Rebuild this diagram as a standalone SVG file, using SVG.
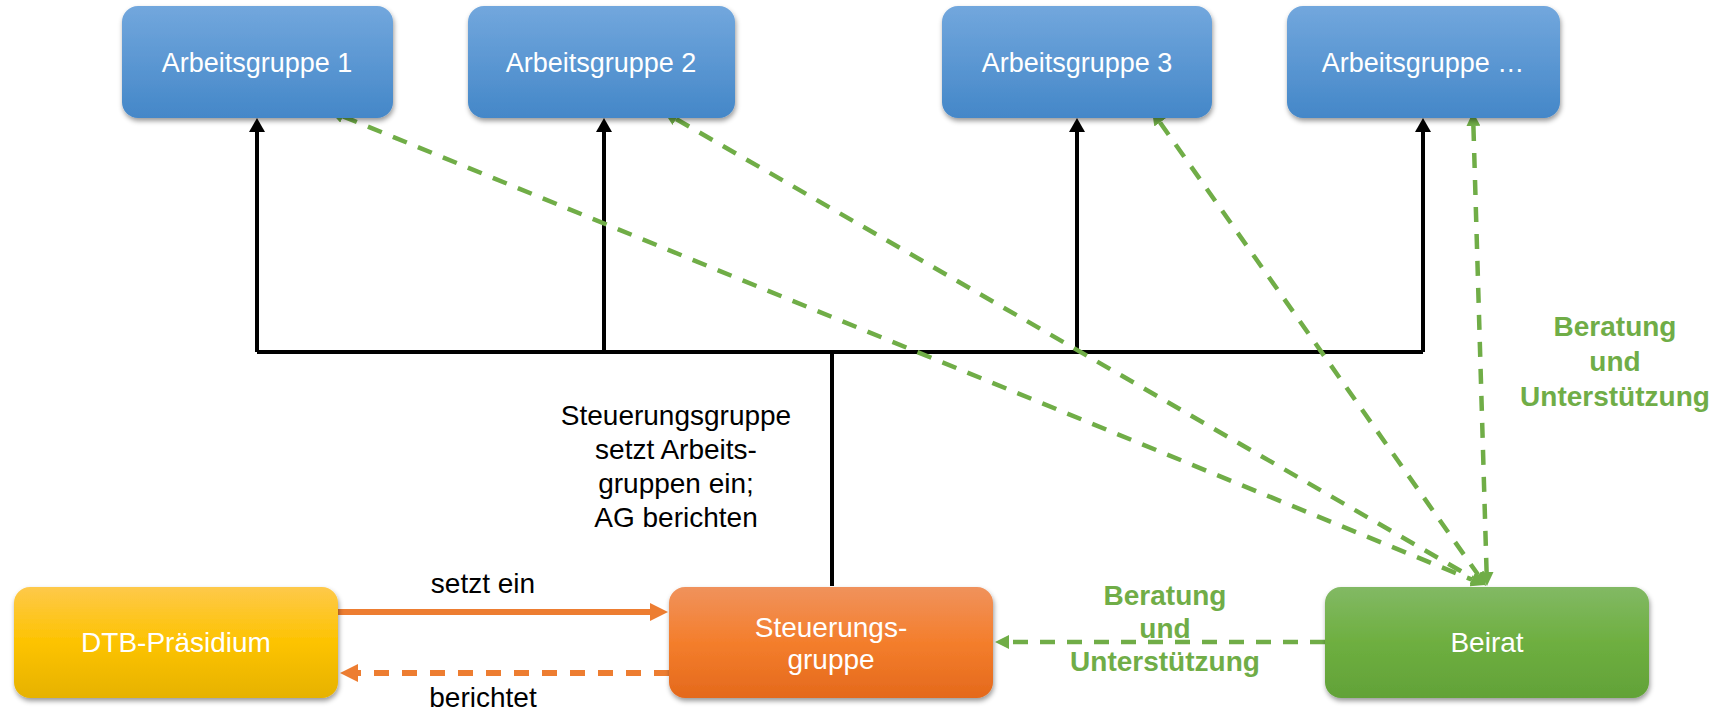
<svg xmlns="http://www.w3.org/2000/svg" width="1725" height="710" viewBox="0 0 1725 710">
  <style>
    .nt { font-family: "Liberation Sans", Arial, sans-serif; font-size: 27px; fill: #ffffff; text-anchor: middle; }
    .lb { font-family: "Liberation Sans", Arial, sans-serif; font-size: 28px; fill: #000000; text-anchor: middle; }
    .gl { font-family: "Liberation Sans", Arial, sans-serif; font-size: 28px; font-weight: bold; fill: #70ad47; text-anchor: middle; }
    .blk { fill: none; stroke: #000000; stroke-width: 4; }
    .grn { fill: none; stroke: #70ad47; stroke-width: 4.5; stroke-dasharray: 15 12; }
    .org { fill: none; stroke: #ed7d31; stroke-width: 6; }
    .orgd { fill: none; stroke: #ed7d31; stroke-width: 6; stroke-dasharray: 15 13; }
  </style>
  <defs>
    <linearGradient id="gBlue" x1="0" y1="0" x2="0" y2="1">
      <stop offset="0" stop-color="#72a7dd"/>
      <stop offset="1" stop-color="#4487c8"/>
    </linearGradient>
    <linearGradient id="gYellow" x1="0" y1="0" x2="0" y2="1">
      <stop offset="0" stop-color="#fec94a"/>
      <stop offset="0.5" stop-color="#fdc300"/>
      <stop offset="1" stop-color="#e6b200"/>
    </linearGradient>
    <linearGradient id="gOrange" x1="0" y1="0" x2="0" y2="1">
      <stop offset="0" stop-color="#f0925c"/>
      <stop offset="0.5" stop-color="#f47e2c"/>
      <stop offset="1" stop-color="#e4691c"/>
    </linearGradient>
    <linearGradient id="gGreen" x1="0" y1="0" x2="0" y2="1">
      <stop offset="0" stop-color="#82b964"/>
      <stop offset="0.5" stop-color="#6eaf40"/>
      <stop offset="1" stop-color="#62a238"/>
    </linearGradient>
    <filter id="sh" x="-10%" y="-10%" width="120%" height="130%">
      <feDropShadow dx="1" dy="3" stdDeviation="2.5" flood-color="#000000" flood-opacity="0.4"/>
    </filter>
    <marker id="aBlack" markerUnits="userSpaceOnUse" viewBox="0 0 14 16" markerWidth="14" markerHeight="16" refX="0" refY="8" orient="auto">
      <path d="M0,0 L14,8 L0,16 z" fill="#000000"/>
    </marker>
    <marker id="aGreen" markerUnits="userSpaceOnUse" viewBox="0 0 14 14" markerWidth="14" markerHeight="14" refX="0" refY="7" orient="auto-start-reverse">
      <path d="M0,0 L14,7 L0,14 z" fill="#70ad47"/>
    </marker>
    <marker id="aOrange" markerUnits="userSpaceOnUse" viewBox="0 0 18 18" markerWidth="18" markerHeight="18" refX="0" refY="9" orient="auto">
      <path d="M0,0 L18,9 L0,18 z" fill="#ed7d31"/>
    </marker>
  </defs>

  <g id="connectors">
    <!-- black tree -->
    <path class="blk" d="M257,352 H1423"/>
    <path class="blk" d="M832,352 V586"/>
    <path class="blk" d="M257,352 V132" marker-end="url(#aBlack)"/>
    <path class="blk" d="M604,352 V132" marker-end="url(#aBlack)"/>
    <path class="blk" d="M1077,352 V132" marker-end="url(#aBlack)"/>
    <path class="blk" d="M1423,352 V132" marker-end="url(#aBlack)"/>
    <!-- green dashed Beirat to AGs -->
    <path class="grn" d="M342.95,116.3 L1472.05,579.7" marker-start="url(#aGreen)" marker-end="url(#aGreen)"/>
    <path class="grn" d="M676.1,119 L1472.9,578" marker-start="url(#aGreen)" marker-end="url(#aGreen)"/>
    <path class="grn" d="M1160.05,122.45 L1477.95,574.55" marker-start="url(#aGreen)" marker-end="url(#aGreen)"/>
    <path class="grn" d="M1473.41,126 L1486.59,572" marker-start="url(#aGreen)" marker-end="url(#aGreen)"/>
    <!-- green dashed Beirat to Steuerungsgruppe -->
    <path class="grn" d="M1325,642 H1009" marker-end="url(#aGreen)"/>
    <!-- orange -->
    <path class="org" d="M338,612 H650" marker-end="url(#aOrange)"/>
    <path class="orgd" d="M669,673 H358" marker-end="url(#aOrange)"/>
    <!-- labels -->
    <text class="lb" x="483" y="593">setzt ein</text>
    <text class="lb" x="483" y="707">berichtet</text>
    <text class="lb" x="676" y="425">Steuerungsgruppe</text>
    <text class="lb" x="676" y="459">setzt Arbeits-</text>
    <text class="lb" x="676" y="493">gruppen ein;</text>
    <text class="lb" x="676" y="527">AG berichten</text>
    <text class="gl" x="1615" y="336">Beratung</text>
    <text class="gl" x="1615" y="371">und</text>
    <text class="gl" x="1615" y="406">Unterstützung</text>
    <text class="gl" x="1165" y="605">Beratung</text>
    <text class="gl" x="1165" y="638">und</text>
    <text class="gl" x="1165" y="671">Unterstützung</text>
  </g>

  <g id="ag1">
    <rect x="122" y="6" width="271" height="112" rx="16" fill="url(#gBlue)" filter="url(#sh)"/>
    <text class="nt" x="257" y="72">Arbeitsgruppe 1</text>
  </g>
  <g id="ag2">
    <rect x="468" y="6" width="267" height="112" rx="16" fill="url(#gBlue)" filter="url(#sh)"/>
    <text class="nt" x="601" y="72">Arbeitsgruppe 2</text>
  </g>
  <g id="ag3">
    <rect x="942" y="6" width="270" height="112" rx="16" fill="url(#gBlue)" filter="url(#sh)"/>
    <text class="nt" x="1077" y="72">Arbeitsgruppe 3</text>
  </g>
  <g id="ag4">
    <rect x="1287" y="6" width="273" height="112" rx="16" fill="url(#gBlue)" filter="url(#sh)"/>
    <text class="nt" x="1423" y="72">Arbeitsgruppe …</text>
  </g>
  <g id="dtb">
    <rect x="14" y="587" width="324" height="111" rx="16" fill="url(#gYellow)" filter="url(#sh)"/>
    <text class="nt" x="176" y="652" style="font-size:28px">DTB-Präsidium</text>
  </g>
  <g id="steuerungsgruppe">
    <rect x="669" y="587" width="324" height="111" rx="16" fill="url(#gOrange)" filter="url(#sh)"/>
    <text class="nt" x="831" y="637" style="font-size:28px">Steuerungs-</text>
    <text class="nt" x="831" y="669" style="font-size:28px">gruppe</text>
  </g>
  <g id="beirat">
    <rect x="1325" y="587" width="324" height="111" rx="16" fill="url(#gGreen)" filter="url(#sh)"/>
    <text class="nt" x="1487" y="652" style="font-size:28px">Beirat</text>
  </g>
</svg>
